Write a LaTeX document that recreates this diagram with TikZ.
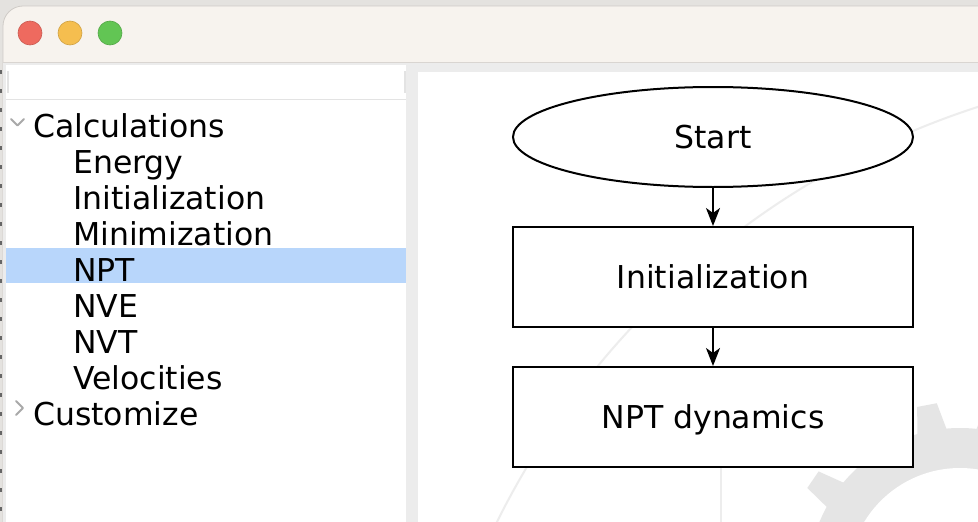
\documentclass[tikz,border=0pt]{standalone}
\usepackage{fontspec}
\setmainfont{DejaVu Sans}
\usetikzlibrary{shapes.geometric,arrows.meta}
\definecolor{desk}{HTML}{E4E2DF}
\definecolor{titlebar}{HTML}{F7F3EE}
\definecolor{framegray}{HTML}{CFCBC7}
\definecolor{winbg}{HTML}{ECECEC}
\definecolor{sepgray}{HTML}{D9D5D1}
\definecolor{panegray}{HTML}{E3E3E3}
\definecolor{selblue}{HTML}{B8D6FB}
\definecolor{chevgray}{HTML}{A9A9A9}
\definecolor{tlred}{HTML}{EE6A5F}
\definecolor{tlyellow}{HTML}{F5BE4F}
\definecolor{tlgreen}{HTML}{62C554}
\definecolor{markgray}{HTML}{EDEDED}
\definecolor{geargray}{HTML}{E5E5E5}
\newcommand\uifont{\fontsize{31.5}{36}\selectfont}

\begin{document}
\begin{tikzpicture}[x=1pt,y=-1pt,
    item/.style={anchor=base west,inner sep=0pt,font=\uifont},
    block/.style={draw,line width=2pt,fill=white,minimum width=400pt,minimum height=100pt,
                  inner sep=0pt,text depth=0pt,font=\uifont},
    terminal/.style={block,ellipse},
    link/.style={line width=1.6pt,-{Stealth[length=18pt,width=14pt,inset=5pt]}},
    chevron/.style={draw=chevgray,line width=2pt,line cap=round,line join=round}]
  \useasboundingbox (0,0) rectangle (978,522);
  \clip (0,0) rectangle (978,522);

  % window frame
  \fill[desk] (0,0) rectangle (978,522);
  \fill[titlebar,rounded corners=20pt] (3,6) rectangle (1050,600);
  \draw[framegray,line width=0.8pt,rounded corners=20pt] (3,6) rectangle (1050,600);
  \fill[winbg] (3,62) rectangle (978,522);
  \draw[sepgray,line width=1pt] (3,62) -- (978,62);
  \draw[black!60,line width=1.5pt,dash pattern=on 4pt off 15pt] (1,70) -- (1,522);
  \foreach \c/\x in {tlred/30,tlyellow/70,tlgreen/110}
    \filldraw[fill=\c,draw=\c!85!black,line width=0.6pt] (\x,33) circle (12);

  % panes
  \fill[white] (6,65) rectangle (406,522);
  \fill[white] (418,72) rectangle (978,522);
  \draw[panegray,line width=1pt] (6,99) -- (406,99);
  \fill[panegray] (7,71) rectangle (9,93);
  \fill[panegray] (404,71) rectangle (406,93);
  \fill[selblue] (6,248) rectangle (406,283);

  % tree
  \draw[chevron] (11,119) -- (17.5,125.5) -- (24,119);
  \node[item] (calc) at (33,137) {Calculations};
  \foreach \name/\txt [count=\i] in {energy/Energy,initialization/Initialization,
      minimization/Minimization,npttree/NPT,nve/NVE,nvt/NVT,velocities/Velocities}
    \node[item] (\name) at (73,{137+36*\i}) {\txt};
  \draw[chevron] (16,401) -- (23,408) -- (16,415);
  \node[item] (custom) at (33,425) {Customize};

  % watermark
  \begin{scope}
    \clip (418,72) rectangle (978,522);
    \fill[geargray] (960,580) circle (152);
    \foreach \k in {0,...,15}
      \fill[geargray,rotate around={100.7+22.5*\k:(960,580)}]
        (1104,564) -- (1138,570) -- (1138,590) -- (1104,596) -- cycle;
    \fill[white] (960,580) circle (112);
    \draw[markgray,line width=2pt] (1229.3,884.5) circle (817);
    \draw[markgray,line width=1.5pt] (721,467) -- (721,522);
  \end{scope}

  % flowchart
  \node[terminal] (start) at (713,137) {Start};
  \node[block] (init) at (713,277) {Initialization};
  \node[block] (npt) at (713,417) {NPT dynamics};
  \draw[link] (start) -- (init);
  \draw[link] (init) -- (npt);
\end{tikzpicture}
\end{document}
